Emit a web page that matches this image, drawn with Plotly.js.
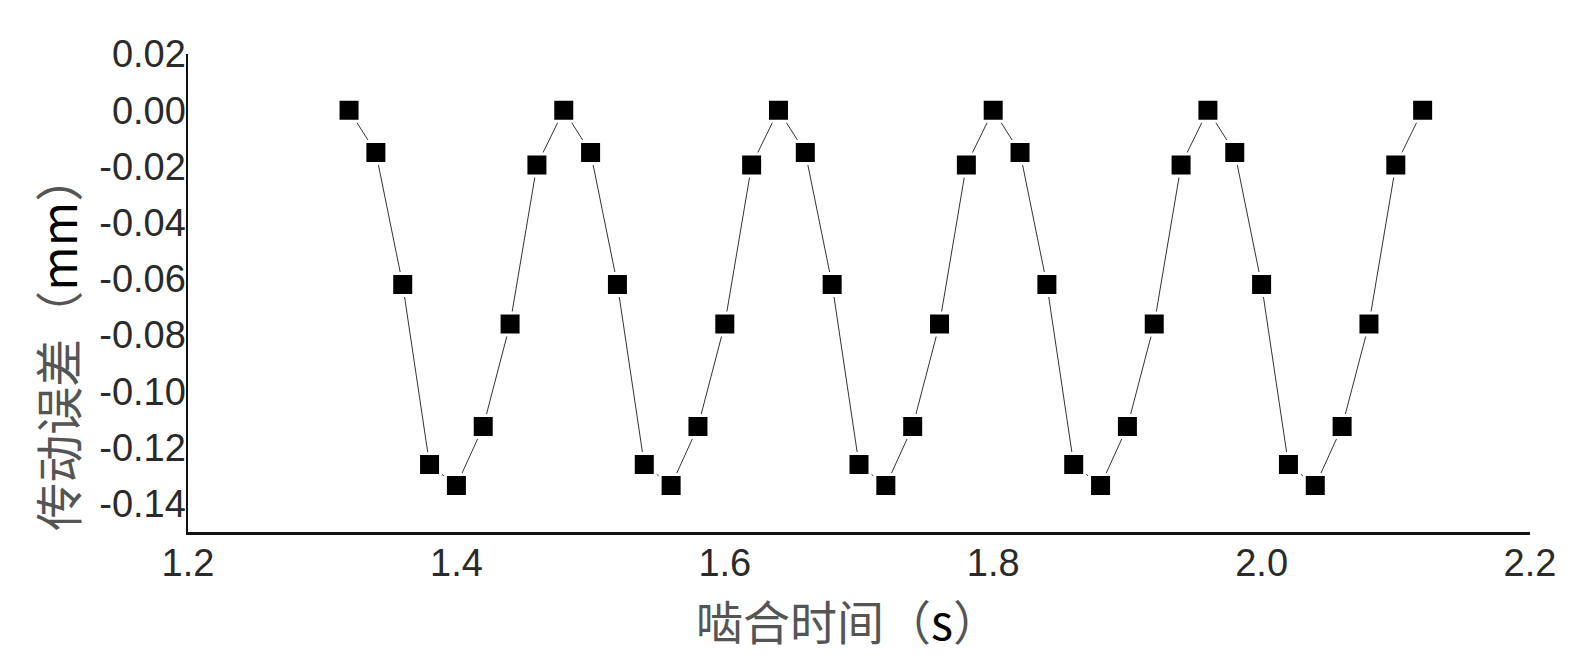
<!DOCTYPE html>
<html>
<head>
<meta charset="utf-8">
<script src="https://cdn.plot.ly/plotly-3.0.1.min.js"></script>
<style>
html,body{margin:0;padding:0;background:#fff;}
#chart{width:1589px;height:659px;}
</style>
</head>
<body>
<div id="chart"></div>
<script>
// 啮合时间 (s)
const meshTime = [1.32,1.34,1.36,1.38,1.40,1.42,1.44,1.46,1.48,1.50,1.52,1.54,1.56,1.58,1.60,1.62,1.64,1.66,1.68,1.70,1.72,1.74,1.76,1.78,1.80,1.82,1.84,1.86,1.88,1.90,1.92,1.94,1.96,1.98,2.00,2.02,2.04,2.06,2.08,2.10,2.12];
// 传动误差 (mm)
const transError = [0.000,-0.015,-0.062,-0.126,-0.1335,-0.1125,-0.076,-0.0195,
                    0.000,-0.015,-0.062,-0.126,-0.1335,-0.1125,-0.076,-0.0195,
                    0.000,-0.015,-0.062,-0.126,-0.1335,-0.1125,-0.076,-0.0195,
                    0.000,-0.015,-0.062,-0.126,-0.1335,-0.1125,-0.076,-0.0195,
                    0.000,-0.015,-0.062,-0.126,-0.1335,-0.1125,-0.076,-0.0195,
                    0.000];
const yTickVals = [0.02,0.00,-0.02,-0.04,-0.06,-0.08,-0.10,-0.12,-0.14];
const yTickText = ["0.02","0.00","-0.02","-0.04","-0.06","-0.08","-0.10","-0.12","-0.14"];
const xTickVals = [1.2,1.4,1.6,1.8,2.0,2.2];
const xTickText = ["1.2","1.4","1.6","1.8","2.0","2.2"];
const xTitle = '啮合时间（<span style="color:#000">s</span>）';
const yTitle = '传动误差（<span style="color:#000">mm</span>）';

const trace = {
  x: meshTime,
  y: transError,
  type: 'scatter',
  mode: 'lines+markers',
  line: {color: '#333', width: 1},
  marker: {symbol: 'square', size: 22, color: '#000', line: {color: '#fff', width: 3}},
  cliponaxis: false,
  hoverinfo: 'skip'
};

const tickFont = {family: '"Liberation Sans", Arial, sans-serif', size: 38, color: '#2a2a2a'};
const layout = {
  width: 1589,
  height: 659,
  margin: {l: 188, r: 59, t: 54, b: 127},
  paper_bgcolor: '#fff',
  plot_bgcolor: '#fff',
  showlegend: false,
  xaxis: {
    range: [1.2, 2.2],
    tickvals: xTickVals,
    ticktext: xTickText,
    ticks: '',
    showgrid: false,
    zeroline: false,
    showline: true,
    linecolor: '#111',
    linewidth: 2.5,
    tickfont: tickFont,
    ticklabelstandoff: -4
  },
  yaxis: {
    range: [-0.15, 0.02],
    tickvals: yTickVals,
    ticktext: yTickText,
    ticks: '',
    showgrid: false,
    zeroline: false,
    showline: true,
    linecolor: '#111',
    linewidth: 2.5,
    tickfont: tickFont,
    ticklabelstandoff: -8
  },
  annotations: [
    {
      text: xTitle,
      xref: 'paper', yref: 'paper',
      x: 0.492, y: -0.184,
      xanchor: 'center', yanchor: 'middle',
      showarrow: false,
      font: {family: '"Noto Sans CJK SC", sans-serif', size: 47, color: '#555'}
    },
    {
      text: yTitle,
      xref: 'paper', yref: 'paper',
      x: -0.098, y: 0.397,
      xanchor: 'center', yanchor: 'middle',
      textangle: -90,
      showarrow: false,
      font: {family: '"Noto Sans CJK SC", sans-serif', size: 48, color: '#555'}
    }
  ]
};

Plotly.newPlot('chart', [trace], layout, {displayModeBar: false, staticPlot: true});
</script>
</body>
</html>
